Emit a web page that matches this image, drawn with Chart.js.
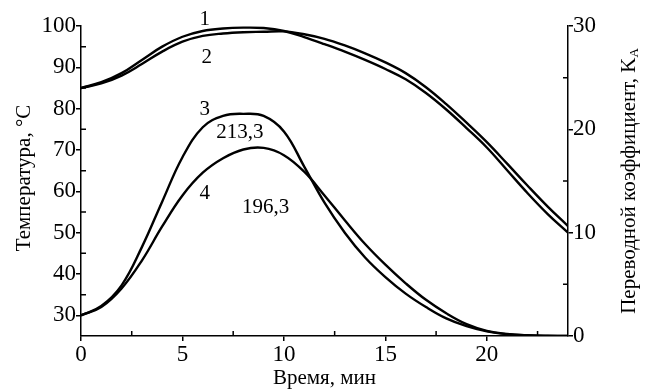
<!DOCTYPE html>
<html>
<head>
<meta charset="utf-8">
<script src="https://cdn.jsdelivr.net/npm/chart.js@4.4.1/dist/chart.umd.min.js"></script>
<style>
  html, body { margin: 0; padding: 0; background: #fff; }
  #wrap { width: 655px; height: 392px; }
</style>
</head>
<body>
<div id="wrap"><canvas id="grafico"></canvas></div>
<script>
// Время, мин
const tiempo = [0, 1, 2, 3, 4, 5, 6, 7, 8, 9, 10, 11, 12, 13, 14, 15, 16, 17, 18, 19, 20, 21, 22, 23, 24];
// Температура, °C (кривые 1 и 2)
const curva1 = [85, 86.4, 88.6, 91.8, 95, 97.4, 98.8, 99.4, 99.6, 99.5, 98.8, 97.3, 95.6, 93.8, 91.8, 89.6, 87.1, 83.8, 79.8, 75.3, 70.6, 65.1, 59.6, 54.5, 50.0];
const curva2 = [85, 86.1, 88.0, 90.8, 93.8, 96.2, 97.6, 98.2, 98.5, 98.6, 98.7, 98.0, 96.9, 95.3, 93.4, 91.2, 88.6, 85.2, 81.1, 76.6, 71.9, 66.7, 61.4, 56.3, 51.6];
// Переводной коэффициент K_A (кривые 3 и 4)
const curva3 = [2.0, 2.9, 4.9, 8.6, 13.0, 17.3, 20.2, 21.3, 21.5, 21.3, 19.8, 16.4, 12.9, 10.0, 7.6, 5.7, 4.1, 2.8, 1.7, 0.95, 0.45, 0.18, 0.06, 0.01, 0];
const curva4 = [2.0, 2.8, 4.6, 7.3, 10.6, 13.6, 15.8, 17.2, 18.05, 18.2, 17.5, 15.9, 13.6, 11.2, 8.9, 6.9, 5.1, 3.5, 2.2, 1.15, 0.5, 0.2, 0.07, 0.02, 0];

const ticksX = [0, 5, 10, 15, 20];
const ticksY = [30, 40, 50, 60, 70, 80, 90, 100];
const ticksY2 = [0, 10, 20, 30];
const menoresX = [2.5, 7.5, 12.5, 17.5, 22.5];
const menoresY = [35, 45, 55, 65, 75, 85, 95];
const menoresY2 = [5, 15, 25];

// Подписи кривых (в координатах данных, левая ось)
const etiquetas = [
    { texto: '1', x: 6.1, y: 101.5 },
    { texto: '2', x: 6.2, y: 92.3 },
    { texto: '3', x: 6.1, y: 79.7 },
    { texto: '213,3', x: 7.83, y: 74.3 },
    { texto: '4', x: 6.1, y: 59.6 },
    { texto: '196,3', x: 9.1, y: 56.1 }
];

const FUENTE = "'Liberation Serif', 'DejaVu Serif', serif";

function puntos(ys) {
    return tiempo.map((t, i) => ({ x: t, y: ys[i] }));
}

function serie(ys, eje) {
    return {
        data: puntos(ys),
        yAxisID: eje,
        borderColor: '#000',
        borderWidth: 2.4,
        pointRadius: 0,
        fill: false,
        tension: 0.4
    };
}

const ejeComun = {
    grid: { display: true, drawOnChartArea: false, drawTicks: true, tickLength: 5, color: '#000', lineWidth: 1.5 },
    border: { display: true, color: '#000', width: 1.5 },
    ticks: { color: '#000', font: { family: FUENTE, size: 23 }, padding: 0, maxRotation: 0, autoSkip: false }
};

const extras = {
    id: 'extras',
    afterDraw(chart) {
        const c = chart.ctx;
        const sx = chart.scales.x, sy = chart.scales.y, sy2 = chart.scales.y2;
        const a = chart.chartArea;
        c.save();
        c.strokeStyle = '#000';
        c.lineWidth = 1.5;
        c.beginPath();
        menoresX.forEach(v => { const p = sx.getPixelForValue(v); c.moveTo(p, a.bottom); c.lineTo(p, a.bottom - 5); });
        menoresY.forEach(v => { const p = sy.getPixelForValue(v); c.moveTo(a.left, p); c.lineTo(a.left + 5, p); });
        menoresY2.forEach(v => { const p = sy2.getPixelForValue(v); c.moveTo(a.right, p); c.lineTo(a.right - 5, p); });
        c.stroke();

        c.fillStyle = '#000';
        c.font = '21px ' + FUENTE;
        c.textAlign = 'center';
        c.textBaseline = 'middle';
        etiquetas.forEach(e => {
            c.fillText(e.texto, sx.getPixelForValue(e.x), sy.getPixelForValue(e.y));
        });

        // подписи осей
        c.fillText('Время, мин', (a.left + a.right) / 2, 378);

        c.save();
        c.translate(24, 178);
        c.rotate(-Math.PI / 2);
        c.fillText('Температура, °C', 0, 0);
        c.restore();

        c.save();
        c.translate(629, 181);
        c.rotate(-Math.PI / 2);
        const principal = 'Переводной коэффициент, K';
        const wP = c.measureText(principal).width;
        c.font = '13px ' + FUENTE;
        const wS = c.measureText('A').width;
        const x0 = -(wP + wS) / 2;
        c.textAlign = 'left';
        c.font = '21px ' + FUENTE;
        c.fillText(principal, x0, 0);
        c.font = '13px ' + FUENTE;
        c.fillText('A', x0 + wP, 6);
        c.restore();
        c.restore();
    }
};

document.addEventListener('DOMContentLoaded', function() {
    const ctx = document.getElementById('grafico').getContext('2d');
    new Chart(ctx, {
        type: 'line',
        data: {
            datasets: [
                serie(curva1, 'y'),
                serie(curva2, 'y'),
                serie(curva3, 'y2'),
                serie(curva4, 'y2')
            ]
        },
        options: {
            responsive: true,
            maintainAspectRatio: false,
            animation: false,
            layout: { padding: { top: 26, left: 0, right: 0, bottom: 0 } },
            plugins: { legend: { display: false }, tooltip: { enabled: false } },
            scales: {
                x: Object.assign({}, ejeComun, {
                    type: 'linear', min: 0, max: 24,
                    afterBuildTicks: s => { s.ticks = ticksX.map(v => ({ value: v })); },
                    afterFit: s => { s.height = 56; }
                }),
                y: Object.assign({}, ejeComun, {
                    type: 'linear', position: 'left', min: 25, max: 100,
                    afterBuildTicks: s => { s.ticks = ticksY.map(v => ({ value: v })); },
                    afterFit: s => { s.width = 81; }
                }),
                y2: Object.assign({}, ejeComun, {
                    type: 'linear', position: 'right', min: 0, max: 30,
                    afterBuildTicks: s => { s.ticks = ticksY2.map(v => ({ value: v })); },
                    afterFit: s => { s.width = 87; }
                })
            }
        },
        plugins: [extras]
    });
});
</script>
</body>
</html>
